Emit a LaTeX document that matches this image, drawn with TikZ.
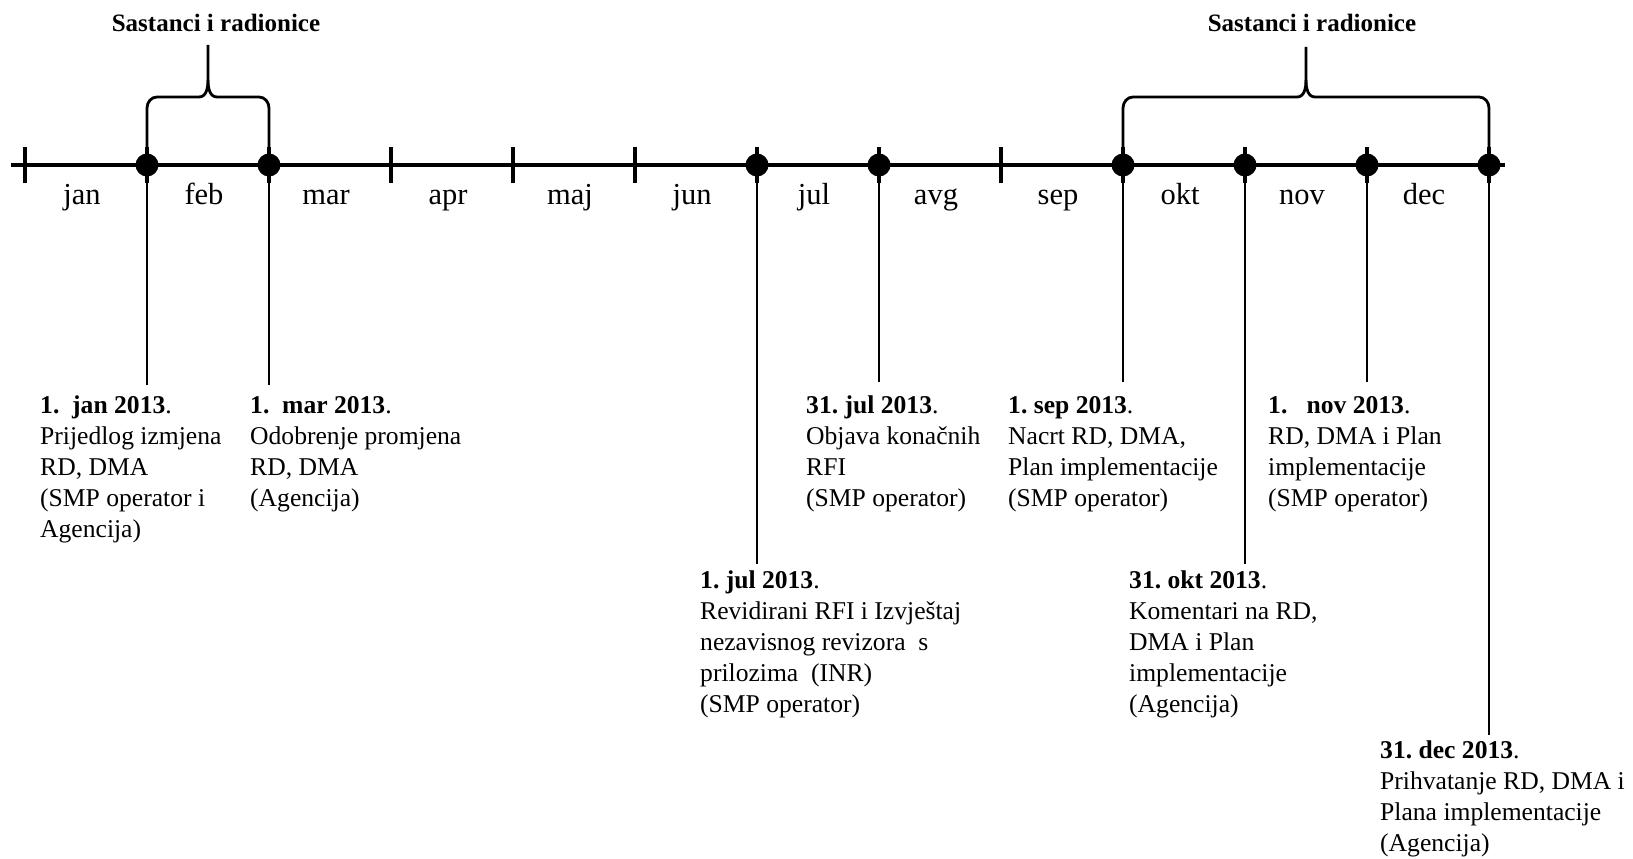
\documentclass[tikz,border=0pt]{standalone}
\usepackage{fontspec}
\setmainfont{Liberation Serif}
\frenchspacing
\begin{document}
\begin{tikzpicture}[x=1pt,y=-1pt,
  desc/.style={anchor=north west, inner sep=0pt, align=left, font=\fontsize{25.6}{31}\selectfont},
  monthlabel/.style={font=\fontsize{30.5}{34}\selectfont, anchor=base, inner sep=0pt},
  titlelabel/.style={font=\bfseries\fontsize{25}{30}\selectfont, anchor=base, inner sep=0pt},
  axisline/.style={line width=4.5pt},
  tickmark/.style={line width=4pt},
  stem/.style={line width=2.8pt},
  bracestyle/.style={line width=2.8pt, line join=round},
  dot/.style={circle, fill=black, minimum size=23pt, inner sep=0pt}
]
\path[use as bounding box] (0,0) rectangle (1633,859);

% boundaries
\foreach \i in {0,...,12} {
  \coordinate (b\i) at ({25+122*\i},165);
}
\coordinate (axL) at (11,165);
\coordinate (axR) at (1505,165);
\draw[axisline] (axL) -- (axR);
\foreach \i in {0,...,12} {
  \draw[tickmark] ([yshift=18pt]b\i) -- ([yshift=-18pt]b\i);
}
% dots
\foreach \i in {1,2,6,7,9,10,11,12} {
  \node[dot] (d\i) at (b\i) {};
}

% month labels
\foreach \i/\m in {0/jan,1/feb,2/mar,3/apr,4/maj,5/jun,6/jul,7/avg,8/sep,9/okt,10/nov,11/dec} {
  \node[monthlabel] (m\i) at ({25+122*\i+57},204) {\m};
}

% stems
\coordinate (e1) at (147,385);
\coordinate (e2) at (269,385);
\coordinate (e6) at (757,564);
\coordinate (e7) at (879,382);
\coordinate (e9) at (1123,382);
\coordinate (e10) at (1245,564);
\coordinate (e11) at (1367,382);
\coordinate (e12) at (1489,735);
\foreach \i in {1,2,6,7,9,10,11,12} {
  \draw[stem] (d\i) -- (e\i);
}

% braces
\draw[bracestyle] (147,147) -- (147,108) to[out=90,in=180] (157,97) -- (199,97) to[out=0,in=-90] (208,80) -- (208,45);
\draw[bracestyle] (269,147) -- (269,108) to[out=90,in=0] (259,97) -- (217,97) to[out=180,in=-90] (208,80);
\draw[bracestyle] (1123,147) -- (1123,108) to[out=90,in=180] (1133,97) -- (1297,97) to[out=0,in=-90] (1306,80) -- (1306,47);
\draw[bracestyle] (1489,147) -- (1489,108) to[out=90,in=0] (1479,97) -- (1315,97) to[out=180,in=-90] (1306,80);

\node[titlelabel] (t1) at (216,32) {Sastanci i radionice};
\node[titlelabel] (t2) at (1312,32) {Sastanci i radionice};

% descriptions
\node[desc] (n1) at (40,396) {\textbf{1.\ \ jan 2013}.\\Prijedlog izmjena\\RD, DMA\\(SMP operator i\\Agencija)};
\node[desc] (n2) at (250,396) {\textbf{1.\ \ mar 2013}.\\Odobrenje promjena\\RD, DMA\\(Agencija)};
\node[desc] (n7) at (806,396) {\textbf{31. jul 2013}.\\Objava konačnih\\RFI\\(SMP operator)};
\node[desc] (n9) at (1008,396) {\textbf{1. sep 2013}.\\Nacrt RD, DMA,\\Plan implementacije\\(SMP operator)};
\node[desc] (n11) at (1268,396) {\textbf{1.\ \ \ nov 2013}.\\RD, DMA i Plan\\implementacije\\(SMP operator)};
\node[desc] (n6) at (700,571) {\textbf{1. jul 2013}.\\Revidirani RFI i Izvještaj\\nezavisnog revizora\ \ s\\prilozima\ \ (INR)\\(SMP operator)};
\node[desc] (n10) at (1129,571) {\textbf{31. okt 2013}.\\Komentari na RD,\\DMA i Plan\\implementacije\\(Agencija)};
\node[desc] (n12) at (1380,741) {\textbf{31. dec 2013}.\\Prihvatanje RD, DMA i\\Plana implementacije\\(Agencija)};
\end{tikzpicture}
\end{document}
